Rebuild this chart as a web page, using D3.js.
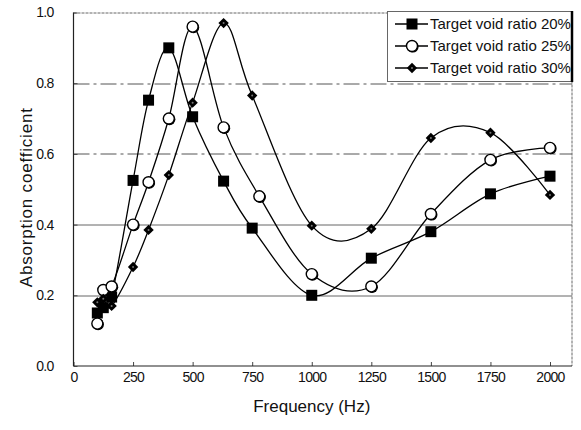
<!DOCTYPE html>
<html>
<head>
<meta charset="utf-8">
<script src="https://cdn.jsdelivr.net/npm/d3@7"></script>
<style>
  html, body { margin: 0; padding: 0; background: #fff; }
  svg { display: block; }
  .tick text { font-family: "Liberation Sans", Arial, sans-serif; font-size: 14px; letter-spacing: -0.7px; fill: #111; }
</style>
</head>
<body>
<svg id="chart" width="581" height="430"></svg>
<script>
// ---- data ----
const xTicks = [0, 250, 500, 750, 1000, 1250, 1500, 1750, 2000];
const yTicks = [0.0, 0.2, 0.4, 0.6, 0.8, 1.0];
const seriesNames = ["Target void ratio 20%", "Target void ratio 25%", "Target void ratio 30%"];

const freq20 = [100, 125, 160, 250, 315, 400, 500, 630, 750, 1000, 1250, 1500, 1750, 2000];
const ratio20 = [0.15, 0.165, 0.195, 0.525, 0.752, 0.90, 0.705, 0.523, 0.39, 0.20, 0.305, 0.38, 0.487, 0.537];

const freq25 = [100, 125, 160, 250, 315, 400, 500, 630, 780, 1000, 1250, 1500, 1750, 2000];
const ratio25 = [0.12, 0.215, 0.225, 0.40, 0.52, 0.70, 0.96, 0.675, 0.48, 0.26, 0.225, 0.43, 0.583, 0.617];

const freq30 = [100, 125, 160, 250, 315, 400, 500, 630, 750, 1000, 1250, 1500, 1750, 2000];
const ratio30 = [0.18, 0.19, 0.17, 0.28, 0.385, 0.54, 0.745, 0.97, 0.765, 0.397, 0.388, 0.645, 0.66, 0.484];

// ---- layout ----
const svg = d3.select("#chart");
const mLeft = 73.5, mTop = 12.5, plotW = 498.5, plotH = 353.5;
const x = d3.scaleLinear().domain([0, 2000]).range([0, 476.5]);
const y = d3.scaleLinear().domain([0, 1]).range([plotH, 0]);
const g = svg.append("g").attr("transform", `translate(${mLeft},${mTop})`);

// gridlines
const gridVals = yTicks.filter(v => v > 0 && v < 1);
g.selectAll("line.grid").data(gridVals).enter().append("line")
  .attr("class", "grid")
  .attr("x1", 0).attr("x2", plotW)
  .attr("y1", d => Math.round(y(d)) + 0.5).attr("y2", d => Math.round(y(d)) + 0.5)
  .attr("stroke", d => d >= 0.6 ? "#555" : "#666")
  .attr("stroke-width", 1)
  .attr("stroke-dasharray", d => d >= 0.6 ? "16,4,3,4" : null);

// frame top & right (dotted, scan-like)
g.append("line").attr("x1", 0).attr("x2", plotW).attr("y1", 0.5).attr("y2", 0.5)
  .attr("stroke", "#666").attr("stroke-dasharray", "3,1");
g.append("line").attr("x1", plotW).attr("x2", plotW).attr("y1", 0).attr("y2", plotH)
  .attr("stroke", "#666").attr("stroke-dasharray", "3,1");

// axes
const xAxis = d3.axisBottom(x).tickValues(xTicks).tickFormat(d3.format("d"))
  .tickSizeInner(-4).tickSizeOuter(0).tickPadding(6);
const gx = g.append("g").attr("transform", `translate(0,${plotH})`).call(xAxis);
gx.select(".domain").remove();
g.append("line").attr("x1", 0).attr("x2", plotW).attr("y1", plotH).attr("y2", plotH)
  .attr("stroke", "#222").attr("stroke-width", 1.2);
gx.selectAll(".tick line").attr("stroke", "#444");

const yAxis = d3.axisLeft(y).tickValues(yTicks).tickFormat(d3.format(".1f"))
  .tickSizeInner(-4).tickSizeOuter(0).tickPadding(20);
const gy = g.append("g").call(yAxis);
gy.select(".domain").remove();
g.append("line").attr("x1", 0).attr("x2", 0).attr("y1", 0).attr("y2", plotH)
  .attr("stroke", "#222").attr("stroke-width", 1.2);
gy.selectAll(".tick line").attr("stroke", "#444");

// axis titles
svg.append("text")
  .attr("x", mLeft + x(1000)).attr("y", 412)
  .attr("text-anchor", "middle")
  .style("font-family", "'Liberation Sans', Arial, sans-serif")
  .style("font-size", "17px").attr("fill", "#111")
  .text("Frequency (Hz)");
svg.append("text")
  .attr("transform", `translate(32,${mTop + plotH / 2 + 8}) rotate(-90)`)
  .attr("text-anchor", "middle")
  .style("font-family", "'Liberation Sans', Arial, sans-serif")
  .style("font-size", "17px").style("letter-spacing", "0.8px").attr("fill", "#111")
  .text("Absorption coefficient");

// series
const series = [
  { name: seriesNames[0], xs: freq20, ys: ratio20, marker: "square" },
  { name: seriesNames[1], xs: freq25, ys: ratio25, marker: "circle" },
  { name: seriesNames[2], xs: freq30, ys: ratio30, marker: "diamond" }
];
const line = d3.line().x(d => x(d[0])).y(d => y(d[1])).curve(d3.curveCardinal.tension(0));

function drawMarker(sel, type) {
  if (type === "square") {
    sel.append("rect").attr("x", -5.5).attr("y", -5.5).attr("width", 11).attr("height", 11).attr("fill", "#000");
  } else if (type === "circle") {
    sel.append("circle").attr("cx", 0.8).attr("cy", 0.8).attr("r", 5.8).attr("fill", "#000");
    sel.append("circle").attr("r", 5.5).attr("fill", "#fff").attr("stroke", "#000").attr("stroke-width", 1.4);
  } else {
    sel.append("path").attr("d", "M0,-5.2L5.2,0L0,5.2L-5.2,0Z").attr("fill", "#000");
    sel.append("circle").attr("r", 1).attr("fill", "#777");
  }
}

series.forEach(s => {
  const pts = s.xs.map((f, i) => [f, s.ys[i]]);
  g.append("path").attr("d", line(pts)).attr("fill", "none").attr("stroke", "#000").attr("stroke-width", 1.3);
});
series.forEach(s => {
  const pts = s.xs.map((f, i) => [f, s.ys[i]]);
  g.selectAll(null).data(pts).enter().append("g")
    .attr("transform", d => `translate(${x(d[0])},${y(d[1])})`)
    .each(function() { drawMarker(d3.select(this), s.marker); });
});

// legend
const lg = svg.append("g").attr("transform", "translate(387,11)");
lg.append("rect").attr("x", 0.5).attr("y", 0.5).attr("width", 184).attr("height", 70)
  .attr("fill", "#fff").attr("stroke", "#666").attr("stroke-width", 1);
lg.append("line").attr("x1", 185).attr("x2", 185).attr("y1", 0).attr("y2", 71)
  .attr("stroke", "#000").attr("stroke-width", 2.5);
series.forEach((s, i) => {
  const ry = 13 + i * 22;
  lg.append("line").attr("x1", 8).attr("x2", 41).attr("y1", ry).attr("y2", ry)
    .attr("stroke", "#000").attr("stroke-width", 1.4);
  const m = lg.append("g").attr("transform", `translate(25,${ry})`);
  drawMarker(m, s.marker);
  lg.append("text").attr("x", 43).attr("y", ry).attr("dy", "0.36em")
    .style("font-family", "'Liberation Sans', Arial, sans-serif")
    .style("font-size", "15px").attr("fill", "#111")
    .text(s.name);
});
</script>
</body>
</html>
